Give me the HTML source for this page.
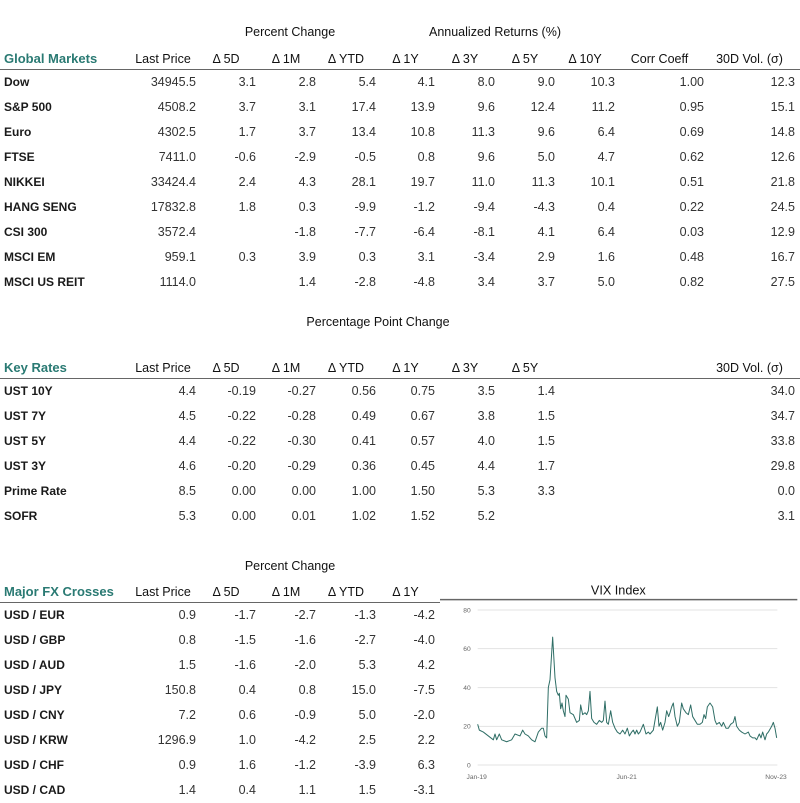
<!DOCTYPE html>
<html><head><meta charset="utf-8"><style>
body{margin:0;width:800px;height:800px;background:#fff;font-family:"Liberation Sans",sans-serif;color:#333;position:relative;overflow:hidden}
.t{position:absolute;left:0;border-collapse:collapse;table-layout:fixed;font-size:12.5px}
.t td{padding:0;white-space:nowrap;text-align:right;height:25px;line-height:25px}
.t tr.h td{height:20px;line-height:20px;text-align:center;color:#111;border-bottom:1.5px solid #666}
.t tr.h td:first-child{color:#2a7a73;text-align:left;padding-left:4px;font-size:13px}
.t td:first-child{text-align:left;padding-left:4px;color:#1a1a1a;font-weight:bold;font-size:12px}
.sup{position:absolute;font-size:12.5px;color:#111;transform:translateX(-50%);white-space:nowrap;line-height:16px}
</style></head><body>
<div class="sup" style="left:290px;top:24px">Percent Change</div>
<div class="sup" style="left:495px;top:24px">Annualized Returns (%)</div>
<table class="t" style="top:49px;width:800px">
<colgroup><col style="width:130px"><col style="width:66px"><col style="width:60px"><col style="width:60px"><col style="width:60px"><col style="width:59px"><col style="width:60px"><col style="width:60px"><col style="width:60px"><col style="width:89px"><col style="width:91px"><col style="width:5px"></colgroup>
<tr class="h"><td>Global Markets</td><td>Last Price</td><td>Δ 5D</td><td>Δ 1M</td><td>Δ YTD</td><td>Δ 1Y</td><td>Δ 3Y</td><td>Δ 5Y</td><td>Δ 10Y</td><td>Corr Coeff</td><td>30D Vol. (σ)</td><td></td></tr>
<tr><td>Dow</td><td>34945.5</td><td>3.1</td><td>2.8</td><td>5.4</td><td>4.1</td><td>8.0</td><td>9.0</td><td>10.3</td><td>1.00</td><td>12.3</td><td></td></tr>
<tr><td>S&amp;P 500</td><td>4508.2</td><td>3.7</td><td>3.1</td><td>17.4</td><td>13.9</td><td>9.6</td><td>12.4</td><td>11.2</td><td>0.95</td><td>15.1</td><td></td></tr>
<tr><td>Euro</td><td>4302.5</td><td>1.7</td><td>3.7</td><td>13.4</td><td>10.8</td><td>11.3</td><td>9.6</td><td>6.4</td><td>0.69</td><td>14.8</td><td></td></tr>
<tr><td>FTSE</td><td>7411.0</td><td>-0.6</td><td>-2.9</td><td>-0.5</td><td>0.8</td><td>9.6</td><td>5.0</td><td>4.7</td><td>0.62</td><td>12.6</td><td></td></tr>
<tr><td>NIKKEI</td><td>33424.4</td><td>2.4</td><td>4.3</td><td>28.1</td><td>19.7</td><td>11.0</td><td>11.3</td><td>10.1</td><td>0.51</td><td>21.8</td><td></td></tr>
<tr><td>HANG SENG</td><td>17832.8</td><td>1.8</td><td>0.3</td><td>-9.9</td><td>-1.2</td><td>-9.4</td><td>-4.3</td><td>0.4</td><td>0.22</td><td>24.5</td><td></td></tr>
<tr><td>CSI 300</td><td>3572.4</td><td></td><td>-1.8</td><td>-7.7</td><td>-6.4</td><td>-8.1</td><td>4.1</td><td>6.4</td><td>0.03</td><td>12.9</td><td></td></tr>
<tr><td>MSCI EM</td><td>959.1</td><td>0.3</td><td>3.9</td><td>0.3</td><td>3.1</td><td>-3.4</td><td>2.9</td><td>1.6</td><td>0.48</td><td>16.7</td><td></td></tr>
<tr><td>MSCI US REIT</td><td>1114.0</td><td></td><td>1.4</td><td>-2.8</td><td>-4.8</td><td>3.4</td><td>3.7</td><td>5.0</td><td>0.82</td><td>27.5</td><td></td></tr>
</table>

<div class="sup" style="left:378px;top:314px">Percentage Point Change</div>
<table class="t" style="top:358px;width:800px">
<colgroup><col style="width:130px"><col style="width:66px"><col style="width:60px"><col style="width:60px"><col style="width:60px"><col style="width:59px"><col style="width:60px"><col style="width:60px"><col style="width:60px"><col style="width:89px"><col style="width:91px"><col style="width:5px"></colgroup>
<tr class="h"><td>Key Rates</td><td>Last Price</td><td>Δ 5D</td><td>Δ 1M</td><td>Δ YTD</td><td>Δ 1Y</td><td>Δ 3Y</td><td>Δ 5Y</td><td></td><td></td><td>30D Vol. (σ)</td><td></td></tr>
<tr><td>UST 10Y</td><td>4.4</td><td>-0.19</td><td>-0.27</td><td>0.56</td><td>0.75</td><td>3.5</td><td>1.4</td><td></td><td></td><td>34.0</td><td></td></tr>
<tr><td>UST 7Y</td><td>4.5</td><td>-0.22</td><td>-0.28</td><td>0.49</td><td>0.67</td><td>3.8</td><td>1.5</td><td></td><td></td><td>34.7</td><td></td></tr>
<tr><td>UST 5Y</td><td>4.4</td><td>-0.22</td><td>-0.30</td><td>0.41</td><td>0.57</td><td>4.0</td><td>1.5</td><td></td><td></td><td>33.8</td><td></td></tr>
<tr><td>UST 3Y</td><td>4.6</td><td>-0.20</td><td>-0.29</td><td>0.36</td><td>0.45</td><td>4.4</td><td>1.7</td><td></td><td></td><td>29.8</td><td></td></tr>
<tr><td>Prime Rate</td><td>8.5</td><td>0.00</td><td>0.00</td><td>1.00</td><td>1.50</td><td>5.3</td><td>3.3</td><td></td><td></td><td>0.0</td><td></td></tr>
<tr><td>SOFR</td><td>5.3</td><td>0.00</td><td>0.01</td><td>1.02</td><td>1.52</td><td>5.2</td><td></td><td></td><td></td><td>3.1</td><td></td></tr>
</table>

<div class="sup" style="left:290px;top:558px">Percent Change</div>
<table class="t" style="top:582px;width:440px">
<colgroup><col style="width:130px"><col style="width:66px"><col style="width:60px"><col style="width:60px"><col style="width:60px"><col style="width:59px"><col style="width:5px"></colgroup>
<tr class="h"><td>Major FX Crosses</td><td>Last Price</td><td>Δ 5D</td><td>Δ 1M</td><td>Δ YTD</td><td>Δ 1Y</td><td></td></tr>
<tr><td>USD / EUR</td><td>0.9</td><td>-1.7</td><td>-2.7</td><td>-1.3</td><td>-4.2</td><td></td></tr>
<tr><td>USD / GBP</td><td>0.8</td><td>-1.5</td><td>-1.6</td><td>-2.7</td><td>-4.0</td><td></td></tr>
<tr><td>USD / AUD</td><td>1.5</td><td>-1.6</td><td>-2.0</td><td>5.3</td><td>4.2</td><td></td></tr>
<tr><td>USD / JPY</td><td>150.8</td><td>0.4</td><td>0.8</td><td>15.0</td><td>-7.5</td><td></td></tr>
<tr><td>USD / CNY</td><td>7.2</td><td>0.6</td><td>-0.9</td><td>5.0</td><td>-2.0</td><td></td></tr>
<tr><td>USD / KRW</td><td>1296.9</td><td>1.0</td><td>-4.2</td><td>2.5</td><td>2.2</td><td></td></tr>
<tr><td>USD / CHF</td><td>0.9</td><td>1.6</td><td>-1.2</td><td>-3.9</td><td>6.3</td><td></td></tr>
<tr><td>USD / CAD</td><td>1.4</td><td>0.4</td><td>1.1</td><td>1.5</td><td>-3.1</td><td></td></tr>
</table>

<svg style="position:absolute;left:440px;top:575px" width="360" height="225" viewBox="0 0 1080 675">
<text x="535" y="58" text-anchor="middle" font-size="38" fill="#111" font-family="Liberation Sans, sans-serif">VIX Index</text>
<line x1="0" y1="74" x2="1072" y2="74" stroke="#666" stroke-width="4.5"/>
<g stroke="#e3e3e3" stroke-width="3">
<line x1="113" y1="105" x2="1012" y2="105"/><line x1="113" y1="221" x2="1012" y2="221"/><line x1="113" y1="338" x2="1012" y2="338"/><line x1="113" y1="454" x2="1012" y2="454"/><line x1="113" y1="570" x2="1012" y2="570"/>
</g>
<g font-size="20" fill="#666" font-family="Liberation Sans, sans-serif" text-anchor="end">
<text x="92" y="112">80</text><text x="92" y="228">60</text><text x="92" y="345">40</text><text x="92" y="461">20</text><text x="92" y="577">0</text>
</g>
<g font-size="20" fill="#666" font-family="Liberation Sans, sans-serif" text-anchor="middle">
<text x="110" y="612">Jan-19</text><text x="560" y="612">Jun-21</text><text x="1008" y="612">Nov-23</text>
</g>
<path id="vix" fill="none" stroke="#2f6e66" stroke-width="3" stroke-linejoin="round"/>
</svg>
<script>
var p=[113,21,118,18,130,17,145,15,160,13,165,16,170,13,178,16,185,13,200,12,215,13,225,16,240,15,248,18,255,16,265,15,275,13,285,12,295,17,305,19,310,19,315,15,320,14,325,40,330,44,338,66,345,45,350,38,355,36,358,37,362,29,366,32,370,28,375,25,378,36,385,34,390,27,400,26,405,24,410,22,418,23,422,31,428,26,435,27,440,26,445,28,450,38,455,24,462,22,470,21,478,23,485,22,490,23,495,33,500,22,505,21,512,28,518,22,525,19,532,17,540,16,548,18,555,16,562,19,568,15,575,17,580,18,585,16,590,18,595,16,600,17,610,21,618,16,625,17,630,16,640,18,648,26,652,30,657,20,662,22,668,18,675,22,680,28,686,25,690,27,695,30,700,32,705,25,712,20,718,22,725,32,730,29,738,27,745,26,752,31,758,25,765,23,772,21,780,21,787,22,792,26,797,24,802,30,810,32,818,30,825,23,830,21,838,22,845,20,850,22,858,19,865,19,872,21,880,22,885,25,890,20,898,18,905,17,915,16,925,17,930,15,938,14,945,14,950,13,958,16,963,14,968,17,975,13,980,16,985,17,995,20,1000,22,1005,19,1010,14];
var d="";for(var i=0;i<p.length;i+=2){d+=(i?"L":"M")+p[i]+" "+(570-p[i+1]*5.8125).toFixed(1);}
document.getElementById("vix").setAttribute("d",d);
</script>
</body></html>
